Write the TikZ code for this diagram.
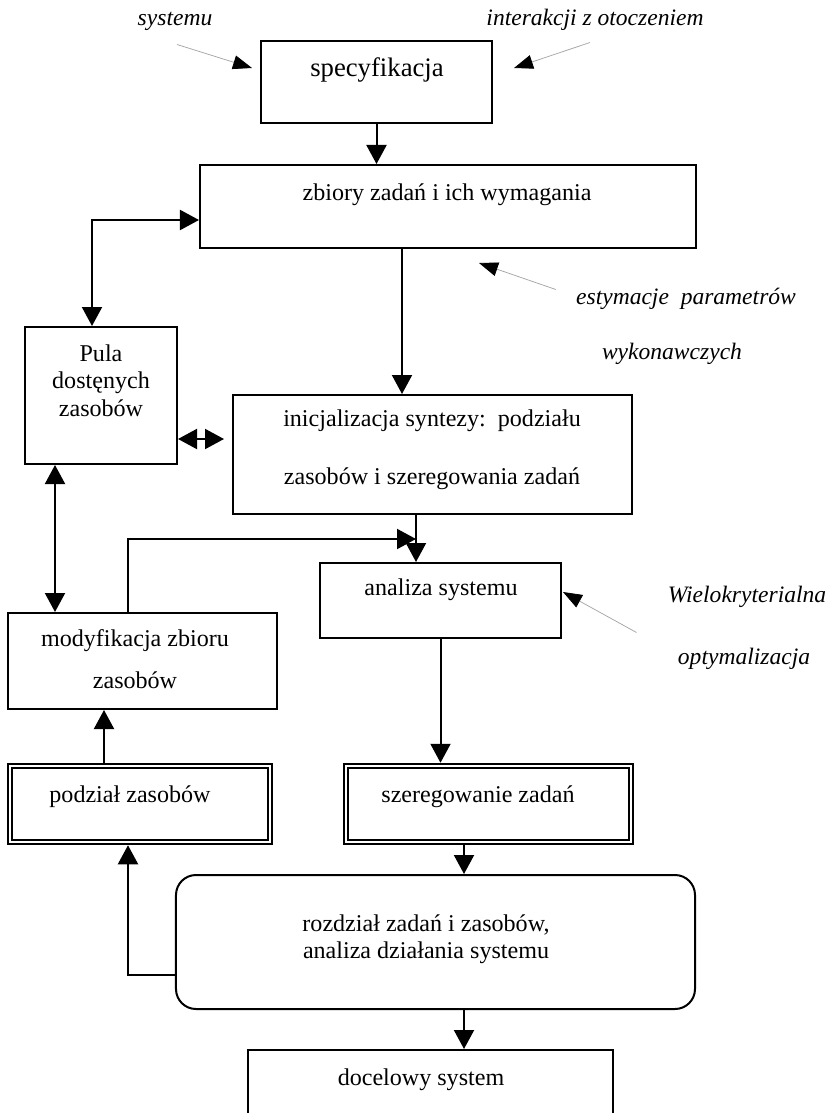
\documentclass[tikz,border=0pt]{standalone}
\usepackage{fontspec}
\setmainfont{Liberation Serif}
\usetikzlibrary{arrows.meta}

\tikzset{
  box/.style={draw, line width=0.4mm, inner sep=0pt},
  dbox/.style={box, double, double distance=0.5mm, outer sep=0.65mm},
  rbox/.style={box, rounded corners=4mm},
  txt/.style={inner sep=0pt, align=center, yshift=-0.5mm, font=\fontsize{13.7}{15.5}\selectfont,
    execute at begin node=\strut, execute at end node=\strut},
  note/.style={txt, font=\fontsize{13.4}{15.5}\selectfont\itshape},
  arr/.style={line width=0.4mm, -{Triangle[length=3.8mm,width=4mm]}},
  dblarr/.style={line width=0.4mm, {Triangle[length=3.8mm,width=4mm]}-{Triangle[length=3.8mm,width=4mm]}},
  hint/.style={draw=black!35, line width=0.15mm, -{Triangle[length=3.8mm,width=2.8mm,color=black]}},
}

\begin{document}
\begin{tikzpicture}[x=0.2mm, y=-0.2mm]
   \useasboundingbox (0,0) rectangle (830,1113);
   \clip (0,0) rectangle (830,1113);

   % boxes
   \node[box, minimum width=46.2mm, minimum height=16.4mm] (spec) at (376.5,82) {};
   \node[box, minimum width=99.2mm, minimum height=16.6mm] (zbiory) at (448,206.5) {};
   \node[box, minimum width=30.4mm, minimum height=27.4mm] (pula) at (101,395.5) {};
   \node[box, minimum width=79.8mm, minimum height=23.8mm] (init) at (432.5,454.5) {};
   \node[box, minimum width=48.2mm, minimum height=15mm] (analiza) at (440.5,600.5) {};
   \node[box, minimum width=53.8mm, minimum height=19.2mm] (modyf) at (142.5,661) {};
   \node[dbox, minimum width=52mm, minimum height=15.2mm] (podzial) at (140,804) {};
   \node[dbox, minimum width=57mm, minimum height=15.2mm] (szereg) at (488.5,804) {};
   \node[rbox, minimum width=103.8mm, minimum height=26.8mm] (rozdz) at (435.5,942) {};
   \node[box, minimum width=73mm, minimum height=18mm] (docel) at (430.5,1095) {};

   \node[txt, font=\fontsize{15.2}{17}\selectfont] (spec-t) at (377,68) {specyfikacja};
   \node[txt] (zbiory-t) at (447,193) {zbiory zadań i ich wymagania};
   \node[txt] (pula-t) at (101,382) {Pula\\dostęnych\\zasobów};
   \node[txt] (init-t) at (432,449) {inicjalizacja syntezy:\ \ podziału\\[17.5pt]zasobów i szeregowania zadań};
   \node[txt] (analiza-t) at (441,588) {analiza systemu};
   \node[txt] (modyf-t) at (135,661) {modyfikacja zbioru\\[8.4pt]zasobów};
   \node[txt] (podzial-t) at (130,795) {podział zasobów};
   \node[txt] (szereg-t) at (478,795) {szeregowanie zadań};
   \node[txt] (rozdz-t) at (426,938.5) {rozdział zadań i zasobów,\\analiza działania systemu};
   \node[txt] (docel-t) at (421,1078) {docelowy system};

   % side notes
   \node[note] (systemu) at (175,18) {systemu};
   \node[note] (interakcja) at (595,18) {interakcji z otoczeniem};
   \node[note] (estym) at (686,297) {estymacje\ \ parametrów};
   \node[note] (wykon) at (672,352) {wykonawczych};
   \node[note] (wielo) at (747,595) {Wielokryterialna};
   \node[note] (optym) at (744,657) {optymalizacja};

   \draw[hint] ([shift={(2,24)}]systemu.center) -- ([shift={(-8,-14)}]spec.west);
   \draw[hint] ([shift={(-5,22)}]interakcja.center) -- ([shift={(21,-14)}]spec.east);
   \draw[hint] ([shift={(-20,-10)}]estym.west) -- ([shift={(31,14)}]zbiory.south);
   \draw[hint] ([shift={(-31,35)}]wielo.west) -- ([shift={(1,-8.5)}]analiza.east);

   % flow
   \coordinate (merge) at (416,539);
   \draw[arr] (spec.south) -- (spec.south |- zbiory.north);
   \draw[dblarr] ([xshift=-1.8mm]pula.north) |- ([yshift=-2.7mm]zbiory.west);
   \draw[arr] ([xshift=-9.2mm]zbiory.south) -- ([xshift=-9.2mm]zbiory.south |- init.north);
   \draw[dblarr] ([yshift=-8.7mm]pula.east) -- ++(46,0);
   \draw[arr] ([xshift=-3.3mm]init.south) -- ([xshift=-3.3mm]init.south |- analiza.north);
   \draw[arr] ([xshift=-2.9mm]modyf.north) |- (merge);
   \draw[dblarr] ([xshift=-9.2mm]pula.south) -- ([xshift=-9.2mm]pula.south |- modyf.north);
   \draw[arr] (analiza.south) -- (analiza.south |- szereg.north);
   \draw[arr] ([xshift=-4.9mm]szereg.south) -- ([xshift=-4.9mm]szereg.south |- rozdz.north);
   \draw[arr] ([xshift=-7.2mm]podzial.north) -- ([xshift=-7.2mm]podzial.north |- modyf.south);
   \draw[arr] ([yshift=-6.6mm]rozdz.west) -| ([xshift=-2.4mm]podzial.south);
   \draw[arr] ([xshift=5.7mm]rozdz.south) -- ([xshift=5.7mm]rozdz.south |- docel.north);

\end{tikzpicture}
\end{document}
